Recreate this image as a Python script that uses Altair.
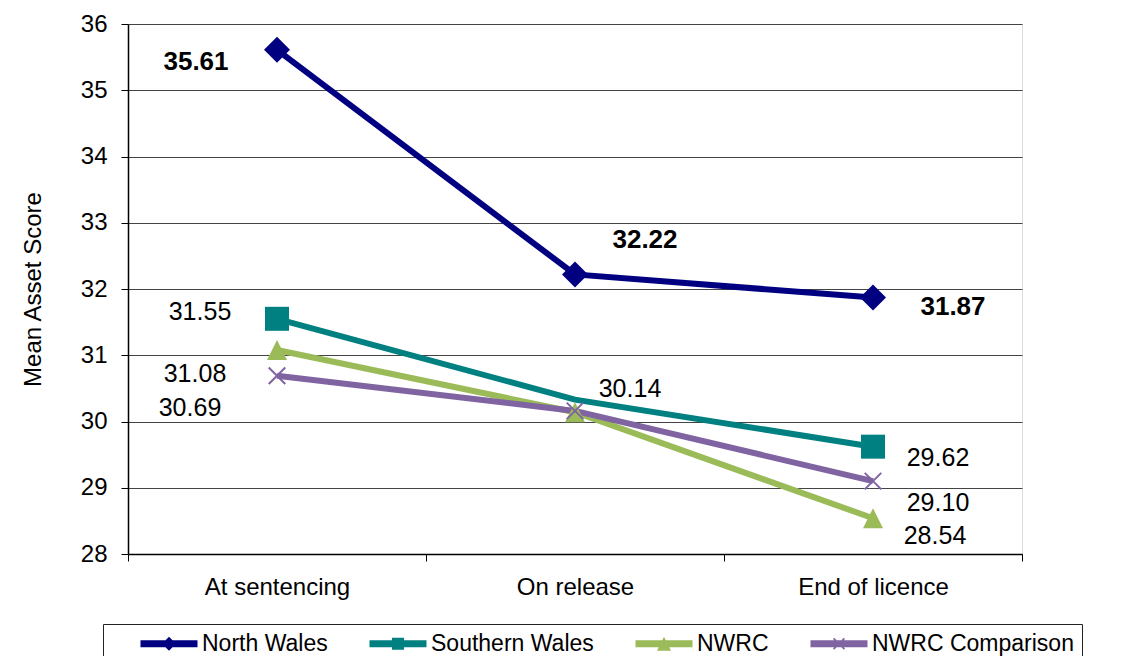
import altair as alt
import pandas as pd

# ---------------- data ----------------
stages = ["At sentencing", "On release", "End of licence"]
series_names = ["North Wales", "Southern Wales", "NWRC", "NWRC Comparison"]
north_wales = [35.61, 32.22, 31.87]
southern_wales = [31.55, 30.33, 29.62]
nwrc = [31.08, 30.14, 28.54]
nwrc_comparison = [30.69, 30.16, 29.10]
series_values = [north_wales, southern_wales, nwrc, nwrc_comparison]
colors = ["#000080", "#008080", "#9BBB59", "#8064A2"]

# data labels: which series / stage, and the printed text
label_series = ["North Wales", "North Wales", "North Wales",
                "Southern Wales", "Southern Wales",
                "NWRC", "NWRC", "NWRC",
                "NWRC Comparison", "NWRC Comparison"]
label_stage = [0, 1, 2, 0, 2, 0, 1, 2, 0, 2]
label_text = ["35.61", "32.22", "31.87", "31.55", "29.62",
              "31.08", "30.14", "28.54", "30.69", "29.10"]

# ---------------- styling (not data) ----------------
label_offsets = [(-81, 12), (70, -34), (80, 9), (-77, -7), (65, 11),
                 (-82, 24), (55, -23), (62, 18), (-87, 32), (65, 22)]
FONT = "Liberation Sans"


def x_path(cx, h, d):
    r1 = f"M{cx-h:.3f},{-h+d:.3f}L{cx-h+d:.3f},{-h:.3f}L{cx+h:.3f},{h-d:.3f}L{cx+h-d:.3f},{h:.3f}Z"
    r2 = f"M{cx+h:.3f},{-h+d:.3f}L{cx-h+d:.3f},{h:.3f}L{cx-h:.3f},{h-d:.3f}L{cx+h-d:.3f},{-h:.3f}Z"
    return r1 + r2


# chart markers (unit = 13 px, size 26^2)
marker_paths = [
    "M0,-1L1,0L0,1L-1,0Z",
    "M-0.923,-0.923H0.923V0.923H-0.923Z",
    "M0,-0.77L0.77,0.77H-0.77Z",
    x_path(0, 0.69, 0.109),
]
MARKER_SIZE = 676

# legend symbols (unit = 10 px, size 20^2): line + marker extending to the right
cx = 1.85
line_rect = "M-1,-0.34H4.7V0.34H-1Z"
legend_paths = [
    line_rect + f"M{cx},-0.7L{cx+0.7:.3f},0L{cx},0.7L{cx-0.7:.3f},0Z",
    line_rect + f"M{cx-0.6:.3f},-0.6H{cx+0.6:.3f}V0.6H{cx-0.6:.3f}Z",
    line_rect + f"M{cx},-0.7L{cx+0.7:.3f},0.7H{cx-0.7:.3f}Z",
    line_rect + x_path(cx, 0.6, 0.113),
]

# ---------------- tables ----------------
rows = []
for s, vals in zip(series_names, series_values):
    for i, (st, v) in enumerate(zip(stages, vals)):
        rows.append({"series": s, "series_l": s, "stage": st, "idx": i, "value": v})
df = pd.DataFrame(rows)

x_enc = alt.X(
    "stage:N",
    sort=stages,
    bandPosition=0.5,
    scale=alt.Scale(type="band", paddingInner=0, paddingOuter=0),
    axis=alt.Axis(
        title=None, labelAngle=0, tickBand="extent", tickSize=7, labelPadding=14,
        labelFontSize=24, labelFont=FONT, labelColor="black",
        domainColor="black", tickColor="black", domainWidth=1.5, grid=False,
    ),
)
y_enc = alt.Y(
    "value:Q",
    scale=alt.Scale(domain=[28, 36], nice=False, zero=False),
    axis=alt.Axis(
        values=list(range(28, 37)), tickSize=7, labelPadding=14,
        labelFontSize=24, labelFont=FONT, labelColor="black",
        domainColor="black", tickColor="black", domainWidth=1.5,
        grid=True, gridColor="#444444", gridWidth=1,
        title="Mean Asset Score", titleFont=FONT, titleFontSize=24,
        titleFontWeight="normal", titleColor="black",
        titleX=-95, titleY=265, titleAngle=-90,
        titleAlign="center", titleBaseline="middle",
    ),
)
color_scale = alt.Scale(domain=series_names, range=colors)

lines = alt.Chart(df).mark_line(strokeWidth=6).encode(
    x=x_enc, y=y_enc,
    color=alt.Color("series:N", scale=color_scale, legend=None),
    order=alt.Order("idx:Q"),
)

points = alt.Chart(df).mark_point(filled=True, opacity=1, size=MARKER_SIZE).transform_filter(
    "!(datum.series == 'Southern Wales' && datum.stage == 'On release')"
).encode(
    x=x_enc, y=y_enc,
    color=alt.Color("series:N", scale=color_scale, legend=None),
    shape=alt.Shape("series:N", scale=alt.Scale(domain=series_names, range=marker_paths), legend=None),
)

label_expr = "datum.label == 'NWRC Comparison' ? datum.label + '                    ' : datum.label"
legend_layer = alt.Chart(df).mark_point(filled=True, opacity=0).encode(
    x=x_enc, y=y_enc,
    color=alt.Color("series_l:N", scale=alt.Scale(domain=series_names, range=colors),
                    legend=alt.Legend(title=" ", labelExpr=label_expr)),
    shape=alt.Shape("series_l:N", scale=alt.Scale(domain=series_names, range=legend_paths),
                    legend=alt.Legend(title=" ", labelExpr=label_expr)),
)

text_layers = []
for s, si, t, (dx, dy) in zip(label_series, label_stage, label_text, label_offsets):
    val = series_values[series_names.index(s)][si]
    ldf = pd.DataFrame([{"stage": stages[si], "value": val, "label": t}])
    bold = s == "North Wales"
    text_layers.append(
        alt.Chart(ldf).mark_text(
            dx=dx, dy=dy, font=FONT, fontSize=26 if bold else 25,
            fontWeight="bold" if bold else "normal", color="black",
            align="center", baseline="middle",
        ).encode(x=x_enc, y=y_enc, text="label:N")
    )

chart = (
    alt.layer(lines, points, legend_layer, *text_layers)
    .resolve_scale(color="independent", shape="independent")
    .properties(
        width=894, height=530,
        autosize=alt.AutoSizeParams(type="none"),
        padding={"left": 120, "top": 16, "right": 95, "bottom": 102},
    )
    .configure_view(stroke="#888888", strokeWidth=2.5)
    .configure(font=FONT)
    .configure_legend(
        orient="none", legendX=-25, legendY=600, direction="horizontal",
        titleOrient="left", titleFontSize=11, titlePadding=28,
        labelFont=FONT, labelFontSize=23, labelColor="black", labelLimit=600,
        symbolSize=400, symbolStrokeWidth=0, symbolOpacity=1,
        labelOffset=40, columnPadding=40, padding=8,
        strokeColor="#222222",
    )
)

chart.save("out.html", embed_options={"renderer": "svg", "actions": False})
